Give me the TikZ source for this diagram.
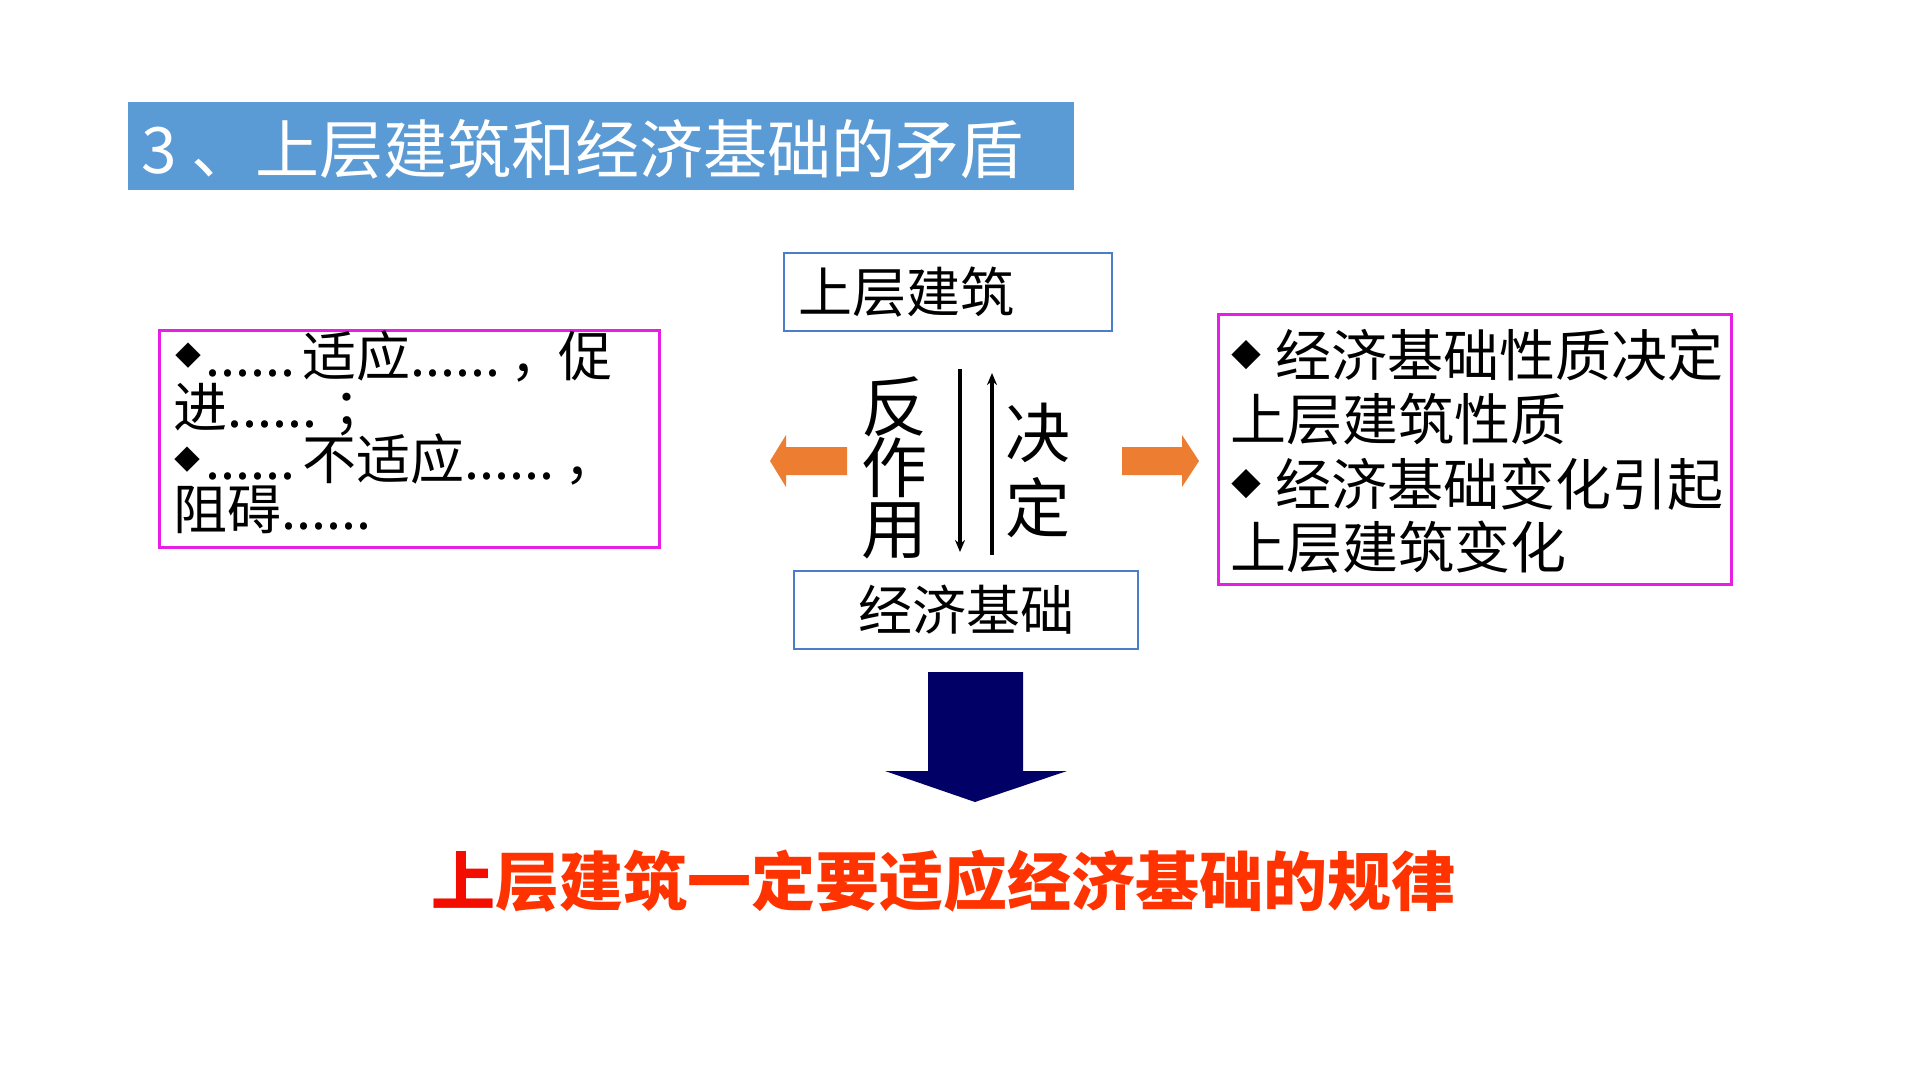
\documentclass[tikz,border=0pt]{standalone}
\usepackage{fontspec}
\setmainfont{Noto Sans CJK SC}
\usetikzlibrary{arrows.meta}
\definecolor{titlebar}{HTML}{5B9BD5}
\definecolor{boxblue}{HTML}{4A7EC8}
\definecolor{mag}{HTML}{E61EE6}
\definecolor{orng}{HTML}{ED7D31}
\definecolor{navyc}{HTML}{000066}
\definecolor{redt}{HTML}{FF3300}
\definecolor{redl}{HTML}{F20D00}
\begin{document}
\begin{tikzpicture}[x=0.5pt,y=-0.5pt,
  txt/.style={inner sep=0pt, anchor=base west},
  lfont/.style={font=\fontsize{27}{27}\selectfont},
  rfont/.style={font=\fontsize{28}{28}\selectfont},
  bluebox/.style={draw=boxblue, line width=1pt, rectangle, inner sep=0pt, anchor=north west, font=\fontsize{27}{27}\selectfont},
  magbox/.style={draw=mag, line width=1.6pt, rectangle, inner sep=0pt, anchor=north west},
  bulA/.style={inner sep=0pt, font=\fontsize{13}{13}\selectfont},
  bulB/.style={inner sep=0pt, font=\fontsize{15}{15}\selectfont},
  vline/.style={line width=2pt, -{Stealth[length=6pt,width=5pt]}},
]
\useasboundingbox (0,0) rectangle (1920,1080);
\fill[white] (0,0) rectangle (1920,1080);

% title
\node[fill=titlebar, minimum width=473pt, minimum height=44pt, inner sep=0pt, anchor=north west] (bar) at (128,102) {};
\node[txt, text=white, font=\fontsize{32}{32}\selectfont] (title) at (141,174) {3 、上层建筑和经济基础的矛盾};

% central boxes
\node[bluebox, minimum width=164pt, minimum height=39pt, text width=150pt, align=left, inner xsep=7pt] (sup) at (783,252) {上层建筑};
\node[bluebox, minimum width=172pt, minimum height=39pt] (base) at (793,570) {经济基础};

% vertical labels
\node[font=\fontsize{33}{30.5}\selectfont, align=center, inner sep=0pt] (fzy) at (894,468) {反\\作\\用};
\node[font=\fontsize{32.5}{37.5}\selectfont, align=center, inner sep=0pt] (jd) at (1038,470) {决\\定};

% vertical arrows
\coordinate (d1) at (960,369);
\coordinate (d2) at (960,552);
\coordinate (u1) at (992,555);
\coordinate (u2) at (992,373);
\draw[vline] (d1) -- (d2);
\draw[vline] (u1) -- (u2);

% orange arrows
\fill[orng] (847,447) -- (786,447) -- (786,435) -- (770,461) -- (786,487) -- (786,475) -- (847,475) -- cycle;
\fill[orng] (1122,447) -- (1182,447) -- (1182,435) -- (1199,461) -- (1182,487) -- (1182,475) -- (1122,475) -- cycle;

% left box
\node[magbox, minimum width=250pt, minimum height=108.5pt] (lbox) at (158,329) {};
\node[bulA] (lb1) at (188,356) {◆};
\node[txt, lfont] (l1) at (205,377) {......\hspace{3.5pt}适应......\hspace{5pt}，\hspace{-3pt}促};
\node[txt, lfont] (l2) at (173,427) {进...... ；};
\node[bulA] (lb2) at (187,460) {◆};
\node[txt, lfont] (l3) at (205,479) {......\hspace{3.5pt}不适应......\hspace{5pt}，};
\node[txt, lfont] (l4) at (173,529) {阻碍......};

% right box
\node[magbox, minimum width=256.5pt, minimum height=135pt] (rbox) at (1217,313) {};
\node[bulB] (rb1) at (1246,355) {◆};
\node[txt, rfont] (r1) at (1275,376) {经济基础性质决定};
\node[txt, rfont] (r2) at (1230,440) {上层建筑性质};
\node[bulB] (rb2) at (1246,484) {◆};
\node[txt, rfont] (r3) at (1275,505) {经济基础变化引起};
\node[txt, rfont] (r4) at (1230,568) {上层建筑变化};

% navy arrow
\fill[navyc] (928,672) -- (1023,672) -- (1023,771) -- (1067,771) -- (975,802) -- (885,771) -- (928,771) -- cycle;

% conclusion
\node[inner sep=0pt, anchor=base, text=redt, font=\bfseries\fontsize{32}{32}\selectfont] (law) at (943,905) {\textcolor{redl}{上}层建筑一定要适应经济基础的规律};
\end{tikzpicture}
\end{document}
